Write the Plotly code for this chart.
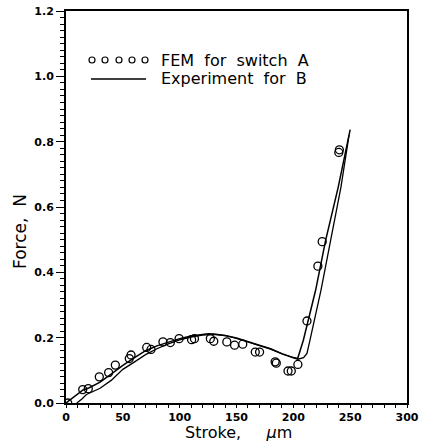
import plotly.graph_objects as go

# FEM results for switch A (open circles)
fem_x = [1.5, 14.7, 19.6, 29.3, 37.5, 43.4, 55.7, 57.2, 71.0, 74.8, 85.3, 91.8, 99.5,
         110.5, 113.0, 127.0, 130.0, 141.5, 148.3, 155.5, 166.5, 170.3, 184.0, 185.0,
         195.3, 198.2, 204.0, 212.0, 221.6, 225.4, 240.0, 240.5]
fem_y = [0.0, 0.041, 0.044, 0.080, 0.093, 0.116, 0.136, 0.147, 0.170, 0.164, 0.187, 0.185, 0.197,
         0.194, 0.197, 0.197, 0.189, 0.187, 0.177, 0.180, 0.156, 0.156, 0.126, 0.122,
         0.098, 0.098, 0.118, 0.251, 0.419, 0.494, 0.767, 0.775]

# Experiment for B (two solid branches)
exp1_x = [0, 8, 15, 20, 30, 40, 50, 60, 70, 80, 90, 100, 110, 120, 125, 130, 140, 150, 160,
          170, 180, 190, 200, 203.8, 208.8, 219.6, 228.4, 239.5, 250]
exp1_y = [0, 0.022, 0.040, 0.046, 0.064, 0.089, 0.115, 0.138, 0.160, 0.175, 0.187, 0.197, 0.205,
          0.210, 0.212, 0.211, 0.207, 0.199, 0.187, 0.177, 0.166, 0.151, 0.139, 0.136,
          0.192, 0.345, 0.498, 0.661, 0.837]
exp2_x = [9.5, 14, 18, 25, 30, 40, 50, 60, 70, 80, 90, 100, 110, 120, 130, 140, 150, 160, 170,
          180, 190, 200, 204, 209, 212, 214.6, 224.3, 232.8, 241.9, 249]
exp2_y = [0, 0.012, 0.026, 0.037, 0.045, 0.070, 0.103, 0.125, 0.148, 0.166, 0.181, 0.193, 0.202,
          0.208, 0.210, 0.206, 0.198, 0.187, 0.176, 0.165, 0.150, 0.138, 0.134, 0.139,
          0.152, 0.192, 0.345, 0.498, 0.661, 0.82]

x_ticks = [0, 50, 100, 150, 200, 250, 300]
y_ticks = [0.0, 0.2, 0.4, 0.6, 0.8, 1.0, 1.2]

FONT = "DejaVu Sans"

fig = go.Figure()
fig.add_trace(go.Scatter(x=exp1_x, y=exp1_y, mode="lines",
                         line=dict(color="black", width=1.5), showlegend=False))
fig.add_trace(go.Scatter(x=exp2_x, y=exp2_y, mode="lines",
                         line=dict(color="black", width=1.3), showlegend=False))
fig.add_trace(go.Scatter(x=fem_x, y=fem_y, mode="markers",
                         marker=dict(symbol="circle-open", size=8, color="black",
                                     line=dict(width=1.3)),
                         showlegend=False))

L, R, T, B = 66, 17, 11, 40
W, H = 424, 443
pw, ph = W - L - R, H - T - B

def px(xp):
    return (xp - L) / pw

def py(yp):
    return (H - B - yp) / ph

shapes = []
# legend circles
for cx in [92, 105, 119, 132, 145]:
    r = 3
    shapes.append(dict(type="circle", xref="paper", yref="paper",
                       x0=px(cx - r), x1=px(cx + r), y0=py(60 + r), y1=py(60 - r),
                       line=dict(color="black", width=1.2)))
# legend line
shapes.append(dict(type="line", xref="paper", yref="paper",
                   x0=px(91), x1=px(146), y0=py(79), y1=py(79),
                   line=dict(color="black", width=1.3)))

annotations = [
    dict(text="FEM  for  switch  A", xref="paper", yref="paper", x=px(159), y=py(60),
         xanchor="left", yanchor="middle", showarrow=False,
         font=dict(family=FONT, size=16, color="black")),
    dict(text="Experiment  for  B", xref="paper", yref="paper", x=px(159), y=py(79),
         xanchor="left", yanchor="middle", showarrow=False,
         font=dict(family=FONT, size=16, color="black")),
    dict(text="Stroke,     <i>μ</i>m", xref="paper", yref="paper", x=px(238), y=py(443),
         xanchor="center", yanchor="bottom", showarrow=False, borderpad=0,
         font=dict(family=FONT, size=16, color="black")),
    dict(text="Force,  N", xref="paper", yref="paper", x=px(20), y=py(232),
         xanchor="center", yanchor="middle", showarrow=False, textangle=-90,
         font=dict(family=FONT, size=17, color="black")),
]

fig.update_layout(
    width=W, height=H,
    margin=dict(l=L, r=R, t=T, b=B),
    paper_bgcolor="white", plot_bgcolor="white",
    shapes=shapes, annotations=annotations,
    showlegend=False,
)
fig.update_xaxes(
    range=[0, 300], tickvals=x_ticks, ticktext=[str(v) for v in x_ticks],
    ticks="outside", ticklen=3, tickwidth=1.2, tickcolor="black",
    minor=dict(dtick=10, ticks="outside", ticklen=3, tickwidth=1, tickcolor="black"),
    showline=True, linecolor="black", linewidth=1.5, mirror=True,
    showgrid=False, zeroline=False, automargin=False,
    tickfont=dict(family=FONT, size=11, color="black", weight="bold"),
)
fig.update_yaxes(
    range=[0, 1.2], tickvals=y_ticks, ticktext=[f"{v:.1f}" for v in y_ticks],
    ticks="outside", ticklen=8, tickwidth=1.2, tickcolor="black",
    minor=dict(dtick=0.02, ticks="outside", ticklen=4, tickwidth=1, tickcolor="black"),
    showline=True, linecolor="black", linewidth=2, mirror=True,
    showgrid=False, zeroline=False, automargin=False,
    tickfont=dict(family=FONT, size=11, color="black", weight="bold"),
)

fig.write_html("out.html")
